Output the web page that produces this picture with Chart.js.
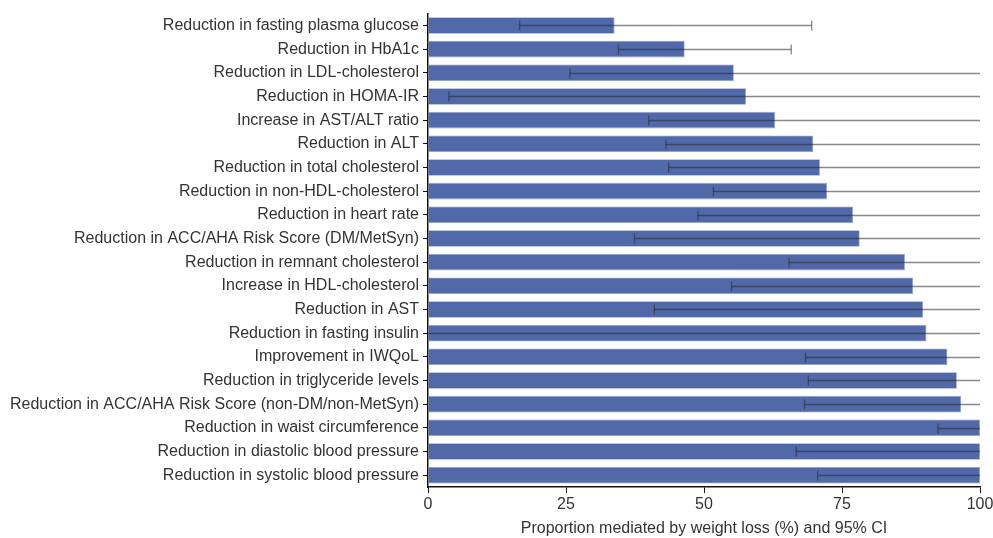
<!DOCTYPE html>
<html>
<head>
<meta charset="utf-8">
<script src="https://cdn.jsdelivr.net/npm/chart.js@4"></script>
<style>
  html, body { margin: 0; padding: 0; background: #fff; }
  #wrap { width: 993px; height: 538px; }
</style>
</head>
<body>
<div id="wrap"><canvas id="mediationChart"></canvas></div>
<script>
const outcomes = [
  'Reduction in fasting plasma glucose',
  'Reduction in HbA1c',
  'Reduction in LDL-cholesterol',
  'Reduction in HOMA-IR',
  'Increase in AST/ALT ratio',
  'Reduction in ALT',
  'Reduction in total cholesterol',
  'Reduction in non-HDL-cholesterol',
  'Reduction in heart rate',
  'Reduction in ACC/AHA Risk Score (DM/MetSyn)',
  'Reduction in remnant cholesterol',
  'Increase in HDL-cholesterol',
  'Reduction in AST',
  'Reduction in fasting insulin',
  'Improvement in IWQoL',
  'Reduction in triglyceride levels',
  'Reduction in ACC/AHA Risk Score (non-DM/non-MetSyn)',
  'Reduction in waist circumference',
  'Reduction in diastolic blood pressure',
  'Reduction in systolic blood pressure'
];
const proportion = [33.8, 46.5, 55.4, 57.6, 62.9, 69.8, 71.0, 72.3, 77.0, 78.2,
                    86.4, 87.9, 89.7, 90.3, 94.1, 95.8, 96.6, 100, 100, 100];
const ciLower = [16.6, 34.5, 25.7, 3.8, 40.0, 43.1, 43.6, 51.7, 48.9, 37.4,
                 65.4, 55.0, 41.0, 0, 68.4, 68.9, 68.2, 92.4, 66.7, 70.6];
const ciUpper = [69.5, 65.8, 100, 100, 100, 100, 100, 100, 100, 100,
                 100, 100, 100, 100, 100, 100, 100, 100, 100, 100];
const xTicks = [0, 25, 50, 75, 100];

const ctx = document.getElementById('mediationChart').getContext('2d');

// draws the 95% CI lines on top of the bars
const ciPlugin = {
  id: 'ciLines',
  afterDatasetsDraw(chart) {
    const meta = chart.getDatasetMeta(0);
    const xs = chart.scales.x;
    const c = chart.ctx;
    c.save();
    c.lineWidth = 1.3;
    c.strokeStyle = 'rgba(40,40,40,0.55)';
    meta.data.forEach((bar, i) => {
      const y = Math.round(bar.y) + 0.5;
      const x1 = xs.getPixelForValue(ciLower[i]);
      const x2 = xs.getPixelForValue(ciUpper[i]);
      c.beginPath();
      c.moveTo(x1, y);
      c.lineTo(x2, y);
      c.stroke();
      // caps
      c.beginPath();
      if (ciLower[i] > 0) {
        c.moveTo(x1, y - 5);
        c.lineTo(x1, y + 5);
      }
      if (ciUpper[i] < 100) {
        c.moveTo(x2, y - 5);
        c.lineTo(x2, y + 5);
      }
      c.stroke();
    });
    c.restore();
  }
};

const font = { family: '"Liberation Sans", Arial, Helvetica, sans-serif', size: 16 };

new Chart(ctx, {
  type: 'bar',
  data: {
    labels: outcomes,
    datasets: [{
      data: proportion,
      backgroundColor: '#5169a8',
      borderColor: '#8fa0cc',
      borderWidth: 0.8,
      categoryPercentage: 1.0,
      barPercentage: 0.7
    }]
  },
  options: {
    indexAxis: 'y',
    responsive: true,
    maintainAspectRatio: false,
    animation: false,
    layout: { padding: { top: 13, right: 13, left: 0, bottom: 0 } },
    plugins: {
      legend: { display: false },
      tooltip: { enabled: false }
    },
    scales: {
      x: {
        min: 0,
        max: 100,
        afterBuildTicks(axis) {
          axis.ticks = xTicks.map(v => ({ value: v }));
        },
        afterFit(axis) {
          axis.height = 51;
          axis.paddingRight = 0;
          axis.paddingLeft = 0;
        },
        border: { color: '#111', width: 1.5 },
        grid: { drawOnChartArea: false, tickLength: 6, color: '#111' },
        ticks: { color: '#333', font: font, padding: 2 },
        title: {
          display: true,
          text: 'Proportion mediated by weight loss (%) and 95% CI',
          color: '#333',
          font: font,
          padding: { top: 3, bottom: 0 }
        }
      },
      y: {
        afterFit(axis) { axis.width = 428; },
        border: { color: '#111', width: 1.5 },
        grid: { drawOnChartArea: false, offset: false, tickLength: 5, color: '#111' },
        ticks: { color: '#333', font: font, padding: 4, autoSkip: false }
      }
    }
  },
  plugins: [ciPlugin]
});
</script>
</body>
</html>
